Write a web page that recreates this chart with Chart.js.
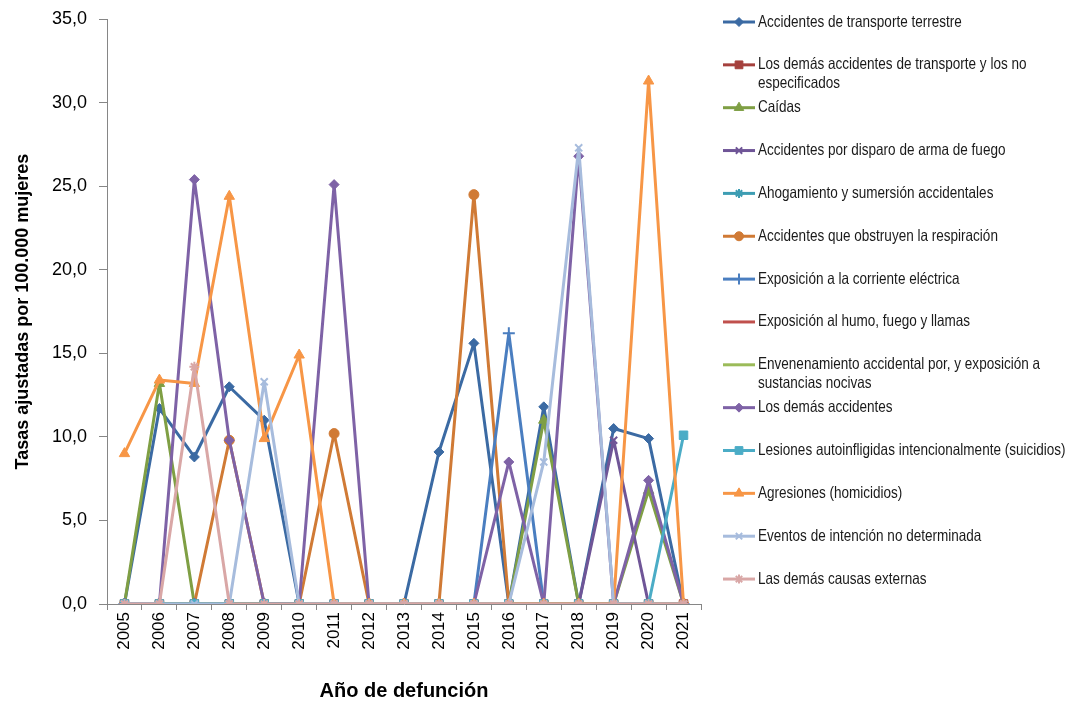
<!DOCTYPE html>
<html><head><meta charset="utf-8">
<script src="https://cdn.jsdelivr.net/npm/chart.js@4.4.0/dist/chart.umd.min.js"></script>
<style>html,body{margin:0;padding:0;background:#fff;overflow:hidden}</style>
</head><body>
<canvas id="c" width="1072" height="705" style="width:1072px;height:705px;display:block"></canvas>
<script>
const years = ['2005','2006','2007','2008','2009','2010','2011','2012','2013','2014','2015','2016','2017','2018','2019','2020','2021'];
const yTicks = [0,5,10,15,20,25,30,35];

const seriesNames = [
  'Accidentes de transporte terrestre',
  'Los demás accidentes de transporte y los no especificados',
  'Caídas',
  'Accidentes por disparo de arma de fuego',
  'Ahogamiento y sumersión accidentales',
  'Accidentes que obstruyen la respiración',
  'Exposición a la corriente eléctrica',
  'Exposición al humo, fuego y llamas',
  'Envenenamiento accidental por, y exposición a sustancias nocivas',
  'Los demás accidentes',
  'Lesiones autoinfligidas intencionalmente (suicidios)',
  'Agresiones (homicidios)',
  'Eventos de intención no determinada',
  'Las demás causas externas'
];

const transporteTerrestre = [0,11.7,8.8,13.0,11.0,0,0,0,0,9.1,15.6,0,11.8,0,10.5,9.9,0];
const demasTransporte    = [0,0,0,0,0,0,0,0,0,0,0,0,0,0,0,0,0];
const caidas             = [0,13.2,0,0,0,0,0,0,0,0,0,0,11.0,0,0,6.8,0];
const armaFuego          = [0,0,0,0,0,0,0,0,0,0,0,0,0,0,9.8,0,0];
const ahogamiento        = [0,0,0,0,0,0,0,0,0,0,0,0,0,0,0,0,0];
const obstruyen          = [0,0,0,9.8,0,0,10.2,0,0,0,24.5,0,0,0,0,0,0];
const corriente          = [0,0,0,0,0,0,0,0,0,0,0,16.2,0,0,0,0,0];
const humo               = [0,0,0,0,0,0,0,0,0,0,0,0,0,0,0,0,0];
const envenenamiento     = [0,0,0,0,0,0,0,0,0,0,0,0,0,0,0,0,0];
const demasAccidentes    = [0,0,25.4,9.8,0,0,25.1,0,0,0,0,8.5,0,26.8,0,7.4,0];
const suicidios          = [0,0,0,0,0,0,0,0,0,0,0,0,0,0,0,0,10.1];
const homicidios         = [9.0,13.4,13.2,24.4,9.9,14.9,0,0,0,0,0,0,0,0,0,31.3,0];
const noDeterminada      = [0,0,0,0,13.3,0,0,0,0,0,0,0,8.5,27.3,0,0,0];
const demasCausas        = [0,0,14.2,0,0,0,0,0,0,0,0,0,0,0,0,0,0];

const seriesValues = [transporteTerrestre, demasTransporte, caidas, armaFuego, ahogamiento, obstruyen, corriente, humo, envenenamiento, demasAccidentes, suicidios, homicidios, noDeterminada, demasCausas];
const colors = ['#3B6AA3','#A5403D','#7F9F44','#6F5597','#3D9DB3','#D07A35','#4A7EC0','#C0504D','#9BBB59','#7E62A6','#4BACC6','#F79646','#A7BCDD','#D9A7A6'];
const styles = ['rectRot','rect','triangle','crossRot','star','circle','cross',false,false,'rectRot','rect','triangle','crossRot','star'];
const radii  = [5,6,6,5,5,5,6,0,0,5,6,6,5,5];

const REG = '"Liberation Sans",Arial,sans-serif';

const datasets = seriesNames.map((name, i) => {
  const stroke = (styles[i] === 'crossRot' || styles[i] === 'cross' || styles[i] === 'star');
  return {
    label: name,
    data: seriesValues[i],
    borderColor: colors[i],
    backgroundColor: colors[i],
    borderWidth: 3,
    borderJoinStyle: 'round',
    pointStyle: styles[i] || 'circle',
    pointRadius: radii[i],
    pointHoverRadius: radii[i],
    pointBorderWidth: stroke ? 2 : 1,
    pointBackgroundColor: colors[i],
    pointBorderColor: colors[i],
    tension: 0,
    fill: false,
    order: seriesNames.length - i
  };
});

const NARROW_SCALE = 0.82;
function wrapText(ctx, text, maxW) {
  const words = text.split(' ');
  const lines = [];
  let cur = '';
  words.forEach(w => {
    const t = cur ? cur + ' ' + w : w;
    if (ctx.measureText(t).width * NARROW_SCALE > maxW && cur) { lines.push(cur); cur = w; }
    else cur = t;
  });
  if (cur) lines.push(cur);
  return lines;
}

const sideLegend = {
  id: 'sideLegend',
  afterDraw(chart) {
    const ctx = chart.ctx;
    ctx.save();
    chart.data.datasets.forEach((ds, i) => {
      const y = 22 + i * 42.85;
      ctx.strokeStyle = ds.borderColor;
      ctx.lineWidth = 3;
      ctx.beginPath(); ctx.moveTo(723, y); ctx.lineTo(755, y); ctx.stroke();
      if (ds.pointRadius > 0) {
        ctx.fillStyle = ds.pointBackgroundColor;
        ctx.strokeStyle = ds.pointBorderColor;
        ctx.lineWidth = ds.pointBorderWidth;
        Chart.helpers.drawPoint(ctx, {pointStyle: ds.pointStyle, radius: ds.pointRadius - 0.5, borderWidth: ds.pointBorderWidth, rotation: 0}, 739, y);
      }
      ctx.save();
      ctx.font = '16.5px ' + REG;
      ctx.textBaseline = 'middle';
      ctx.textAlign = 'left';
      ctx.fillStyle = '#1a1a1a';
      const lines = wrapText(ctx, ds.label, 330);
      ctx.translate(758, y);
      ctx.scale(NARROW_SCALE, 1);
      lines.forEach((ln, k) => ctx.fillText(ln, 0, k * 19));
      ctx.restore();
    });
    ctx.restore();
  }
};

new Chart(document.getElementById('c'), {
  type: 'line',
  data: { labels: years, datasets },
  options: {
    responsive: false,
    animation: false,
    devicePixelRatio: 1,
    layout: { padding: { top: 6, right: 371, bottom: 0, left: 0 } },
    plugins: { legend: { display: false }, tooltip: { enabled: false } },
    scales: {
      x: {
        type: 'category',
        offset: true,
        grid: { offset: true, drawOnChartArea: false, drawTicks: true, tickLength: 6, color: '#868686' },
        border: { display: true, color: '#868686', width: 1 },
        ticks: { autoSkip: false, maxRotation: 90, minRotation: 90, padding: 2, color: '#000', font: { family: REG, size: 17 } },
        title: { display: true, text: 'Año de defunción', color: '#000', font: { family: REG, size: 20, weight: 'bold' }, padding: { top: 0, bottom: 2 } },
        afterFit(s) { s.height = 101; }
      },
      y: {
        min: 0, max: 35,
        afterBuildTicks(s) { s.ticks = yTicks.map(v => ({ value: v })); },
        grid: { drawOnChartArea: false, drawTicks: true, tickLength: 8, color: '#868686' },
        border: { display: true, color: '#868686', width: 1 },
        ticks: { padding: 12, color: '#000', font: { family: REG, size: 18, lineHeight: 0.8 }, callback: v => v.toFixed(1).replace('.', ',') },
        title: { display: true, text: 'Tasas ajustadas por 100.000 mujeres', color: '#000', font: { family: REG, size: 18, weight: 'bold' }, padding: { top: 12, bottom: 0 } },
        afterFit(s) { s.width = 107; }
      }
    }
  },
  plugins: [sideLegend]
});
</script>
</body></html>
